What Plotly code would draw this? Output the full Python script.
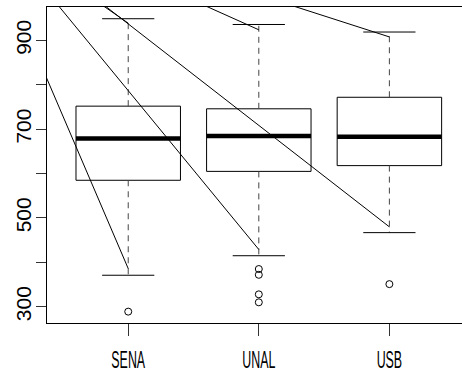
import plotly.graph_objects as go

# ---- data ----
categories = ["SENA", "UNAL", "USB"]
q1 = [585, 605, 618]
median = [679, 685, 683]
q3 = [752, 746, 772]
whisker_low = [371, 415, 467]
whisker_high = [949, 936, 919]
outlier_group = [1, 2, 2, 2, 2, 3]
outlier_value = [289, 385, 372, 328, 310, 351]

# overlay straight lines (start -> end, in data units)
seg_x0 = [0, 0, 0, 0, 0, 0]
seg_y0 = [1073, 1145, 1166, 1143, 1188, 1192]
seg_x1 = [1, 2, 3, 1, 2, 3]
seg_y1 = [386, 429, 480, 939, 924, 908]

y_ticks = [300, 400, 500, 600, 700, 800, 900]
y_tick_text = ["300", "", "500", "", "700", "", "900"]

positions = [1, 2, 3]
half_box = 0.4
half_cap = 0.2

fig = go.Figure()

# boxes
bx, by = [], []
for p, a, b in zip(positions, q1, q3):
    bx += [p - half_box, p + half_box, p + half_box, p - half_box, p - half_box, None]
    by += [a, a, b, b, a, None]
fig.add_trace(go.Scatter(x=bx, y=by, mode="lines", line=dict(color="black", width=1),
                         hoverinfo="skip", showlegend=False))

# whiskers (dashed)
wx, wy = [], []
for p, a, b, lo, hi in zip(positions, q1, q3, whisker_low, whisker_high):
    wx += [p, p, None, p, p, None]
    wy += [b, hi, None, a, lo, None]
fig.add_trace(go.Scatter(x=wx, y=wy, mode="lines", line=dict(color="#444", width=1, dash="6px,5px"),
                         hoverinfo="skip", showlegend=False))

# caps
cx, cy = [], []
for p, lo, hi in zip(positions, whisker_low, whisker_high):
    cx += [p - half_cap, p + half_cap, None, p - half_cap, p + half_cap, None]
    cy += [hi, hi, None, lo, lo, None]
fig.add_trace(go.Scatter(x=cx, y=cy, mode="lines", line=dict(color="black", width=1),
                         hoverinfo="skip", showlegend=False))

# medians
mx, my = [], []
for p, m in zip(positions, median):
    mx += [p - half_box, p + half_box, None]
    my += [m, m, None]
fig.add_trace(go.Scatter(x=mx, y=my, mode="lines", line=dict(color="black", width=4.5),
                         hoverinfo="skip", showlegend=False))

# outliers
fig.add_trace(go.Scatter(x=outlier_group, y=outlier_value, mode="markers",
                         marker=dict(symbol="circle-open", size=7, color="black", line=dict(width=1)),
                         hoverinfo="skip", showlegend=False))

# overlay lines
sx, sy = [], []
for a, b, c, d in zip(seg_x0, seg_y0, seg_x1, seg_y1):
    sx += [a, c, None]
    sy += [b, d, None]
fig.add_trace(go.Scatter(x=sx, y=sy, mode="lines", line=dict(color="black", width=1),
                         hoverinfo="skip", showlegend=False))

fig.update_layout(
    width=462, height=379,
    margin=dict(l=47, r=0, t=7, b=56),
    paper_bgcolor="white", plot_bgcolor="white",
    showlegend=False,
    xaxis=dict(range=[0.378, 3.556], tickvals=positions, ticktext=categories,
               ticks="outside", ticklen=12, tickwidth=1, tickcolor="#333",
               showline=True, mirror=True, linecolor="black", linewidth=1,
               showgrid=False, zeroline=False, ticklabelstandoff=4, automargin=False,
               tickfont=dict(family="Liberation Sans, Arial", size=23, color="black")),
    yaxis=dict(range=[263.4, 975.4], tickvals=y_ticks, ticktext=y_tick_text,
               ticks="outside", ticklen=10, tickwidth=1, tickcolor="#333", tickangle=-90,
               showline=True, linecolor="black", linewidth=1,
               showgrid=False, zeroline=False, ticklabelstandoff=-3, automargin=False,
               tickfont=dict(family="Liberation Sans, Arial", size=21, color="black")),
)

# remove the page margin and narrow the category labels (the reference uses a condensed face)
squeeze_js = """
document.body.style.margin = '0';
document.body.style.padding = '0';
var gd = document.getElementById('{plot_id}');
gd.querySelectorAll('.xtick text').forEach(function (t) {
  var x = parseFloat(t.getAttribute('x')) || 0, y = parseFloat(t.getAttribute('y')) || 0;
  var tr = t.getAttribute('transform') || '';
  t.setAttribute('transform', tr + ' translate(' + x + ',' + y + ') scale(0.54,1) translate(' + (-x) + ',' + (-y) + ')');
});
"""

fig.write_html("out.html", post_script=squeeze_js, config={"displayModeBar": False})
